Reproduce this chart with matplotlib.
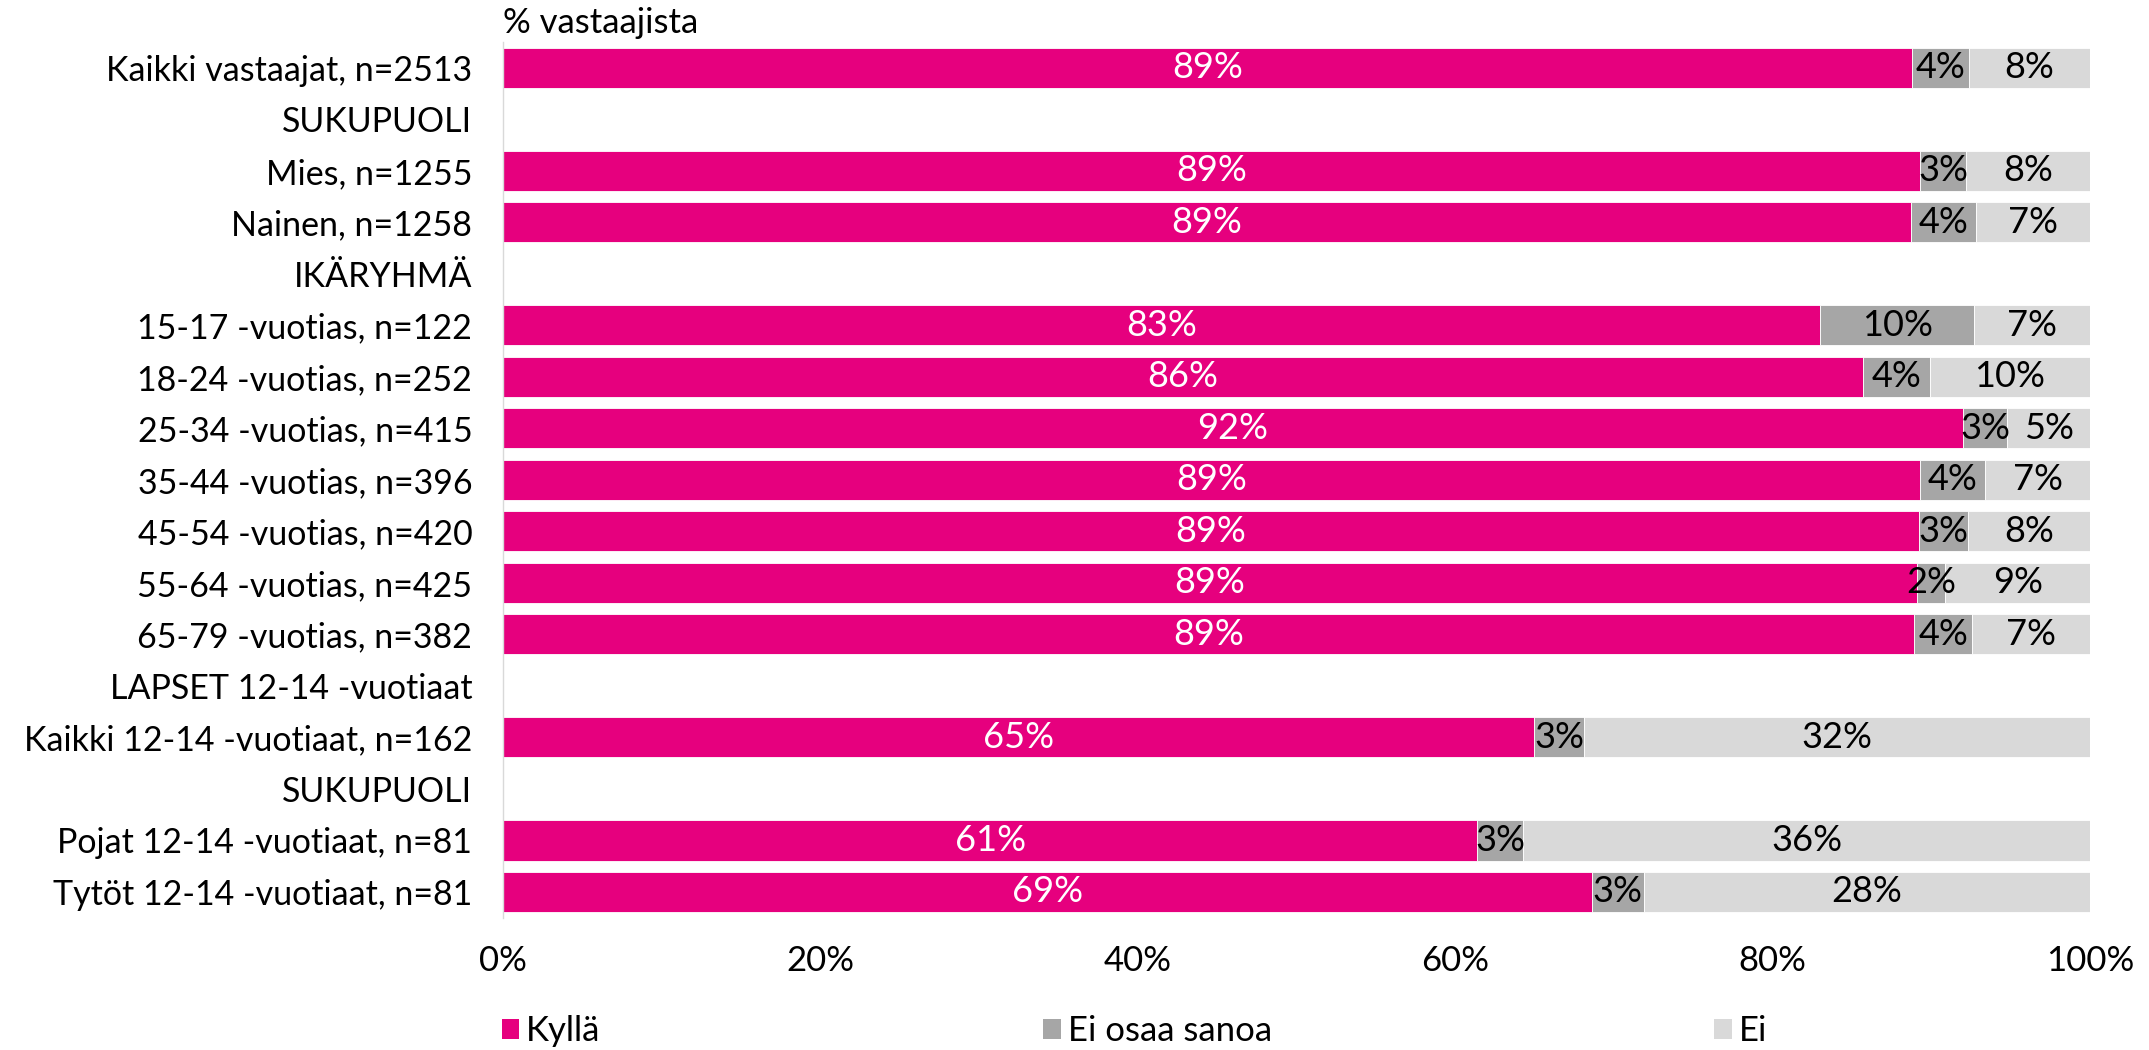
import numpy as np
import matplotlib.pyplot as plt
from matplotlib.patches import Patch

plt.rcParams['font.family'] = ['Lato', 'DejaVu Sans']

categories = [
    "Kaikki vastaajat, n=2513",
    "SUKUPUOLI",
    "Mies, n=1255",
    "Nainen, n=1258",
    "IKÄRYHMÄ",
    "15-17 -vuotias, n=122",
    "18-24 -vuotias, n=252",
    "25-34 -vuotias, n=415",
    "35-44 -vuotias, n=396",
    "45-54 -vuotias, n=420",
    "55-64 -vuotias, n=425",
    "65-79 -vuotias, n=382",
    "LAPSET 12-14 -vuotiaat",
    "Kaikki 12-14 -vuotiaat, n=162",
    "SUKUPUOLI",
    "Pojat 12-14 -vuotiaat, n=81",
    "Tytöt 12-14 -vuotiaat, n=81",
]

# header rows have 0 everywhere
kylla = [88.8, 0, 89.3, 88.7, 0, 83.0, 85.7, 92.0, 89.3, 89.2, 89.1, 88.9, 0, 65.0, 0, 61.4, 68.6]
ei_osaa = [3.6, 0, 2.9, 4.1, 0, 9.7, 4.2, 2.8, 4.1, 3.1, 1.8, 3.7, 0, 3.1, 0, 2.9, 3.3]
ei = [7.6, 0, 7.8, 7.2, 0, 7.3, 10.1, 5.2, 6.6, 7.7, 9.1, 7.4, 0, 31.9, 0, 35.7, 28.1]

series = ["Kyllä", "Ei osaa sanoa", "Ei"]
colors = ["#E6007E", "#A6A6A6", "#D9D9D9"]
text_colors = ["white", "black", "black"]

fig = plt.figure(figsize=(21.49, 10.5), dpi=100)
ax = fig.add_axes([0.234, 0.126, 0.7385, 0.834])

y = np.arange(len(categories))
left = np.zeros(len(categories))
for vals, col, tcol in zip([kylla, ei_osaa, ei], colors, text_colors):
    vals = np.array(vals, dtype=float)
    ax.barh(y, vals, left=left, height=0.78, color=col, edgecolor="white", linewidth=0.6)
    for yi, v, l in zip(y, vals, left):
        if v > 0:
            ax.text(l + v / 2, yi, f"{v:.0f}%", ha="center", va="center",
                    color=tcol, fontsize=26)
    left += vals

ax.set_xlim(0, 100)
ax.set_ylim(len(categories) - 0.5, -0.5)
ax.set_yticks(y)
ax.set_yticklabels(categories, fontsize=24.5)
ax.set_xticks(np.arange(0, 101, 20))
ax.set_xticklabels([f"{t}%" for t in range(0, 101, 20)], fontsize=25)
ax.tick_params(axis="both", length=0)
ax.tick_params(axis="x", pad=20)
ax.tick_params(axis="y", pad=22)

for s in ["top", "right", "bottom"]:
    ax.spines[s].set_visible(False)
ax.spines["left"].set_color("#D9D9D9")
ax.spines["left"].set_linewidth(1)

fig.text(0.234, 0.978, "% vastaajista", fontsize=25, ha="left", va="center")

handles = [Patch(facecolor=c, edgecolor="none") for c in colors]
fig.legend(handles, series, loc="center left", bbox_to_anchor=(0.219, 0.018),
           ncol=3, frameon=False, fontsize=25, handlelength=0.5, handleheight=0.5,
           handletextpad=0.2, columnspacing=12.75)

fig.savefig("out.png", dpi=100)
